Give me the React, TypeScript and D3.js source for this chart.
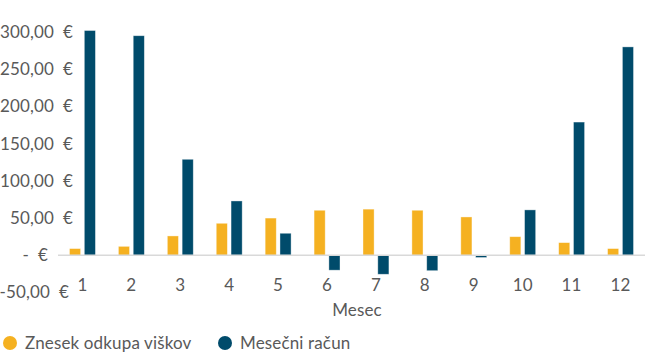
import React from "react";
import * as d3 from "d3";

const months = ["1", "2", "3", "4", "5", "6", "7", "8", "9", "10", "11", "12"];
const odkup = [9, 12, 26, 43, 50, 60.5, 62, 60.5, 51.5, 25, 17, 9];
const racun = [302, 295, 129, 73, 29.6, -20, -25.5, -20.7, -3, 61, 179, 280];
const yTicks = [-50, 0, 50, 100, 150, 200, 250, 300];
const yTickLabels = ["-50,00  €", "-  €", "50,00  €", "100,00  €", "150,00  €", "200,00  €", "250,00  €", "300,00  €"];
const seriesNames = ["Znesek odkupa viškov", "Mesečni račun"];
const colors = ["#F5B121", "#004B6B"];

export default function App() {
  const W = 645, H = 360;
  const x0 = d3.scaleBand<string>().domain(months).range([58, 645]).paddingInner(0.47).paddingOuter(0.235);
  const x1 = d3.scaleBand<number>().domain([0, 1]).range([0, x0.bandwidth()]).paddingInner(0.25);
  const y = d3.scaleLinear().domain([-50, 300]).range([292.5, 32]);
  const font = "Lato, 'Open Sans', sans-serif";
  const textColor = "#595959";
  const fs = 17;
  const ls = 0.15;
  const series = [odkup, racun];
  return (
    <svg width={W} height={H} style={{ position: "absolute", left: 0, top: 0 }} fontFamily={font}>
      <rect width={W} height={H} fill="#fff" />
      {yTicks.map((t, i) => (
        <text key={t} x={t === 0 ? 48 : t === -50 ? 69 : 73} y={y(t)} dy="0.35em" textAnchor="end" fontSize={fs} letterSpacing={ls} fill={textColor} style={{ whiteSpace: "pre" }}>
          {yTickLabels[i]}
        </text>
      ))}
      {series.map((vals, si) =>
        vals.map((v, i) => (
          <rect
            key={si + "-" + i}
            x={(x0(months[i]) as number) + (x1(si) as number)}
            y={y(Math.max(0, v))}
            width={x1.bandwidth()}
            height={Math.abs(y(v) - y(0))}
            fill={colors[si]}
            stroke="#fff"
            strokeOpacity={0.5}
            strokeWidth={0.75}
          />
        ))
      )}
      <line x1={58} x2={645} y1={y(0)} y2={y(0)} stroke="#D9D9D9" strokeWidth={1.5} />
      {months.map((m) => (
        <text key={m} x={(x0(m) as number) + x0.bandwidth() / 2} y={285} dy="0.35em" textAnchor="middle" fontSize={fs} letterSpacing={ls} fill={textColor}>
          {m}
        </text>
      ))}
      <text x={357} y={310} dy="0.35em" textAnchor="middle" fontSize={fs} letterSpacing={ls} fill={textColor}>Mesec</text>
      {seriesNames.map((n, i) => {
        const cx = i === 0 ? 10 : 225;
        return (
          <g key={n}>
            <circle cx={cx} cy={343} r={7} fill={colors[i]} />
            <text x={cx + 15} y={343} dy="0.35em" fontSize={fs} letterSpacing={ls} fill={textColor}>{n}</text>
          </g>
        );
      })}
    </svg>
  );
}
